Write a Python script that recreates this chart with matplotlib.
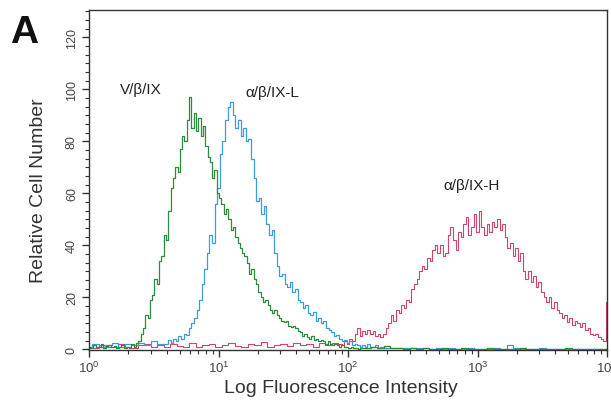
import numpy as np
import matplotlib.pyplot as plt
from matplotlib.ticker import MultipleLocator, LogLocator, NullFormatter

plt.rcParams['font.family'] = ['Liberation Sans', 'DejaVu Sans']
plt.rcParams['mathtext.fontset'] = 'custom'
plt.rcParams['mathtext.rm'] = 'Liberation Sans'

# histogram channels, positions in decades (log10 of intensity)
# V/beta/IX  (green)
green_left = [1, 0.5, 1.5, 0.8, 1, 2, 0.6, 1.2, 1.5, 0.8, 1.2, 0.5, 1, 1.8, 0.6]          # 0.00 - 0.28
green_main = [1, 0.5, 2, 1, 2.5, 3, 6, 8, 13, 12, 19, 21, 27, 25, 34, 36, 44, 42, 53, 62,
              66, 70, 68, 77, 82, 80, 88, 97, 85, 91, 84, 89, 82, 86, 78, 74, 72, 66, 69, 60,
              58, 56, 52, 54, 50, 46, 47, 43, 41, 39, 37, 36, 33, 29, 31, 27, 25, 22, 20, 18,
              19, 17, 15, 14, 15, 13, 12, 11, 10.5, 11, 9, 8.5, 9, 8, 7, 6.5, 5, 6, 4.5, 4,
              5, 3.5, 4, 3, 3.5, 3, 2, 3, 2, 1.5, 2, 1.5, 1, 1.5, 0.8, 1, 0.5, 0.8, 0.3, 0.5,
              0.2, 0.3]                                                                     # 0.30 - 2.10
green_tail = [0.5, 0.8, 0.3, 1.2, 0.5, 0.3, 0.2, 0.3, 0.2, 0.3, 0.2, 0.2, 0.3, 0.2, 0.2,
              0.3, 0.2, 0.2, 0.2, 0.3, 0.2, 0.2, 0.2, 0.2, 0.3, 0.2, 0.2, 0.2, 0.2, 0.2,
              0.2, 0.3, 0.2, 0.2, 0.2, 0.2, 0.2, 0.2]                                      # 2.15 - 4.00

# alpha/beta/IX-L  (blue)
blue_left = [1, 2, 1, 1.5, 2.5, 1, 2, 1.5, 2.5, 1.5, 3, 2]                                 # 0.00 - 0.55
blue_main = [2, 3.5, 2.5, 4, 3, 5, 4, 6, 5.5, 8, 10, 12, 15, 19, 25, 31, 37, 44, 41, 56,
             62, 75, 80, 88, 93, 95, 90, 85, 88, 82, 85, 80, 81, 73, 66, 57, 58, 52, 55, 48,
             44, 46, 37, 32, 28, 29, 25, 24, 26, 22, 23, 19, 18, 16, 17, 14, 13, 14.5, 11, 12,
             10, 11, 8, 7.5, 6.5, 5, 5.5, 4, 3, 3.5, 2.5, 3, 1.5, 2, 1.5, 1, 1.5, 1, 2, 1,
             0.8, 1.5, 0.5, 0.8, 0.4, 0.5]                                                  # 0.60 - 2.30
blue_tail = [0.5, 0.3, 0.6, 0.3, 0.4, 0.3, 0.2, 0.3, 0.2, 0.3, 0.2, 0.2, 0.3, 0.2, 0.2,
             0.2, 0.3, 0.2, 1.5, 0.3, 0.2, 0.2, 0.2, 0.3, 0.2, 0.2, 0.2, 0.2, 0.2, 0.2,
             0.2, 0.2, 0.2, 0.2]                                                            # 2.35 - 4.00

# alpha/beta/IX-H  (red)
red_left = [1, 0.5, 1.5, 1, 0.8, 2, 1, 0.5, 1.5, 2, 1, 1.5, 0.8, 2, 1.2, 1, 2.5, 1, 1.5, 2,
            1, 1.8, 2.5, 1.2, 1, 2, 1.5, 2.8, 1, 1.5, 2, 1.2, 2.5, 1.5, 2, 1, 2.2, 1.5, 2.5]  # 0.00 - 1.90
red_main = [2, 1.5, 3, 2, 4, 3, 6, 8, 5, 7, 6, 7.5, 6, 7, 5, 6, 4.5, 6, 8, 10,
            13, 11, 15, 14, 17, 16, 19, 18, 23, 25, 27, 30, 32, 31, 35, 34, 38, 40, 37, 40,
            36, 37, 44, 47, 42, 38, 45, 43, 48, 51, 44, 47, 52, 45, 53, 47, 44, 48, 45, 49,
            47, 50, 46, 48, 43, 39, 41, 36, 39, 34, 37, 30, 27, 30, 26, 28, 24, 26, 22, 20,
            18, 20, 16, 18, 15, 14, 12, 13, 10.5, 12, 9.5, 11, 10, 8.5, 10, 7.5, 8, 6, 5.5, 6,
            4.5, 4, 3, 18]                                                                  # 1.94 - 4.00


def channels(parts):
    xs, ys = [], []
    for start, stop, vals in parts:
        xs.append(np.linspace(start, stop, len(vals)))
        ys.append(np.array(vals, dtype=float))
    return 10 ** np.concatenate(xs), np.concatenate(ys)


gx, gy = channels([(0.0, 0.28, green_left), (0.30, 2.10, green_main), (2.15, 4.0, green_tail)])
bx, by = channels([(0.0, 0.55, blue_left), (0.60, 2.30, blue_main), (2.35, 4.0, blue_tail)])
rx, ry = channels([(0.0, 1.90, red_left), (1.94, 4.0, red_main)])

fig = plt.figure(figsize=(6.11, 4.10), dpi=100)
ax = fig.add_axes([0.1457, 0.1427, 0.8478, 0.8305])

ax.plot(rx, ry, color='#d2456a', lw=0.8, drawstyle='steps-mid')
ax.plot(bx, by, color='#3d9be0', lw=0.9, drawstyle='steps-mid')
ax.plot(gx, gy, color='#2e8a3e', lw=0.9, drawstyle='steps-mid')

ax.set_xscale('log')
ax.set_xlim(1, 1e4)
ax.set_ylim(-0.5, 130.5)
ax.xaxis.set_major_locator(LogLocator(base=10, numticks=10))
ax.xaxis.set_minor_locator(LogLocator(base=10, subs=np.arange(2, 10), numticks=10))
ax.xaxis.set_minor_formatter(NullFormatter())
ax.yaxis.set_major_locator(MultipleLocator(20))
ax.yaxis.set_minor_locator(MultipleLocator(20 / 6))

for s in ax.spines.values():
    s.set_color('#333333')
    s.set_linewidth(1.0)

ax.tick_params(axis='both', which='major', length=5, width=1, color='#333333', labelcolor='#444444')
ax.tick_params(axis='both', which='minor', length=3, width=0.8, color='#333333')
ax.tick_params(axis='x', labelsize=9.5, pad=2)
ax.tick_params(axis='y', labelsize=9, pad=3)
for lab in ax.get_yticklabels():
    lab.set_rotation(90)
    lab.set_va('center')

ax.set_xlabel('Log Fluorescence Intensity', fontsize=14, color='#333333')
ax.set_ylabel('Relative Cell Number', fontsize=14, color='#333333')
ax.xaxis.set_label_coords(0.486, -0.085)
ax.yaxis.set_label_coords(-0.081, 0.471)

ax.text(10 ** 0.24, 100, 'V/β/IX', fontsize=11, color='#222222', ha='left', va='center')
ax.text(10 ** 1.205, 99, 'α/β/IX-L', fontsize=11, color='#222222', ha='left', va='center')
ax.text(10 ** 2.733, 63, 'α/β/IX-H', fontsize=11, color='#222222', ha='left', va='center')

fig.text(0.016, 0.895, 'A', fontsize=28, fontweight='bold', color='#111111')

fig.savefig('out.png', dpi=100)
